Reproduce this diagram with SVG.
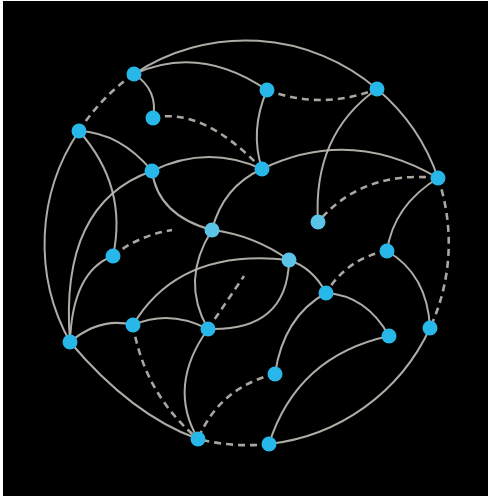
<svg xmlns="http://www.w3.org/2000/svg" width="488" height="496" viewBox="0 0 488 496">
<style>
.e{fill:none;stroke:#c2beb7;stroke-width:2;stroke-linecap:round;opacity:0.9}
.d{fill:none;stroke:#bcb8b1;stroke-width:2.6;stroke-dasharray:7 5;opacity:0.9}
.n{fill:#27b7e8}
.nl{fill:#5cc3e8}
</style>
<rect x="0" y="0" width="488" height="496" fill="#ffffff"/>
<rect x="3" y="1" width="485" height="495" fill="#000000"/>
<g id="connectors">
<path class="e" d="M134,74 A202,202 0 0 1 377,89"/>
<path class="e" d="M377,89 A202,202 0 0 1 438,178"/>
<path class="e" d="M430,328 A202,202 0 0 1 269,444"/>
<path class="e" d="M70,342 Q132,415.5 198,439"/>
<path class="e" d="M70,342 A202,202 0 0 1 79,131"/>
<path class="e" d="M134,74 Q199.5,44 267,90"/>
<path class="e" d="M134,74 Q158.5,90 153,118"/>
<path class="e" d="M267,90 Q249.5,130.5 262,169"/>
<path class="e" d="M377,89 Q312.5,134.5 318,222"/>
<path class="e" d="M262,169 Q350,126.5 438,178"/>
<path class="e" d="M152,171 Q207,144 262,169"/>
<path class="e" d="M438,178 Q393.5,205.5 387,251"/>
<path class="e" d="M79,131 Q120.5,133 152,171"/>
<path class="e" d="M79,131 Q128,186.5 113,256"/>
<path class="e" d="M152,171 Q59,203.5 70,342"/>
<path class="e" d="M152,171 Q158,215.5 212,230"/>
<path class="e" d="M113,256 Q72.5,271 70,342"/>
<path class="e" d="M70,342 Q100.5,316.5 133,325"/>
<path class="e" d="M133,325 Q179,247.5 289,260"/>
<path class="e" d="M133,325 Q169.5,309 208,329"/>
<path class="e" d="M208,329 Q287.5,331.5 289,260"/>
<path class="e" d="M212,230 Q180,280.5 208,329"/>
<path class="e" d="M212,230 Q223,186.5 262,169"/>
<path class="e" d="M212,230 Q253.5,235 289,260"/>
<path class="e" d="M289,260 Q313,268 326,293"/>
<path class="e" d="M208,329 Q167,386 198,439"/>
<path class="e" d="M275,374 Q283.5,316.5 326,293"/>
<path class="e" d="M269,444 Q297,356 389,336"/>
<path class="e" d="M326,293 Q366.5,295.5 389,336"/>
<path class="e" d="M387,251 Q427.5,274.5 430,328"/>
<path class="d" d="M79,131 A202,202 0 0 1 134,74"/>
<path class="d" d="M438,178 A202,202 0 0 1 430,328"/>
<path class="d" d="M269,444 A202,202 0 0 1 198,439"/>
<path class="d" d="M153,118 Q202.5,106.5 262,169"/>
<path class="d" d="M267,90 Q322,110.5 377,89"/>
<path class="d" d="M438,178 Q362,170 318,222"/>
<path class="d" d="M113,256 Q137,236 172,230"/>
<path class="d" d="M208,329 L244,276"/>
<path class="d" d="M133,325 Q144.5,394 198,439"/>
<path class="d" d="M275,374 Q219.5,387.5 198,439"/>
<path class="d" d="M387,251 Q347.5,258 326,293"/>
</g>
<g id="node-a"><circle class="n" cx="134" cy="74" r="7.5"/></g>
<g id="node-b"><circle class="n" cx="79" cy="131" r="7.5"/></g>
<g id="node-c"><circle class="n" cx="153" cy="118" r="7.5"/></g>
<g id="node-d"><circle class="n" cx="267" cy="90" r="7.5"/></g>
<g id="node-e"><circle class="n" cx="377" cy="89" r="7.5"/></g>
<g id="node-f"><circle class="n" cx="152" cy="171" r="7.5"/></g>
<g id="node-g"><circle class="n" cx="262" cy="169" r="7.5"/></g>
<g id="node-h"><circle class="n" cx="438" cy="178" r="7.5"/></g>
<g id="node-i"><circle class="nl" cx="318" cy="222" r="7.5"/></g>
<g id="node-j"><circle class="nl" cx="212" cy="230" r="7.5"/></g>
<g id="node-k"><circle class="n" cx="113" cy="256" r="7.5"/></g>
<g id="node-l"><circle class="nl" cx="289" cy="260" r="7.5"/></g>
<g id="node-m"><circle class="n" cx="387" cy="251" r="7.5"/></g>
<g id="node-n"><circle class="n" cx="326" cy="293" r="7.5"/></g>
<g id="node-o"><circle class="n" cx="70" cy="342" r="7.5"/></g>
<g id="node-p"><circle class="n" cx="133" cy="325" r="7.5"/></g>
<g id="node-q"><circle class="n" cx="208" cy="329" r="7.5"/></g>
<g id="node-r"><circle class="n" cx="389" cy="336" r="7.5"/></g>
<g id="node-s"><circle class="n" cx="430" cy="328" r="7.5"/></g>
<g id="node-t"><circle class="n" cx="275" cy="374" r="7.5"/></g>
<g id="node-u"><circle class="n" cx="198" cy="439" r="7.5"/></g>
<g id="node-v"><circle class="n" cx="269" cy="444" r="7.5"/></g>
</svg>
